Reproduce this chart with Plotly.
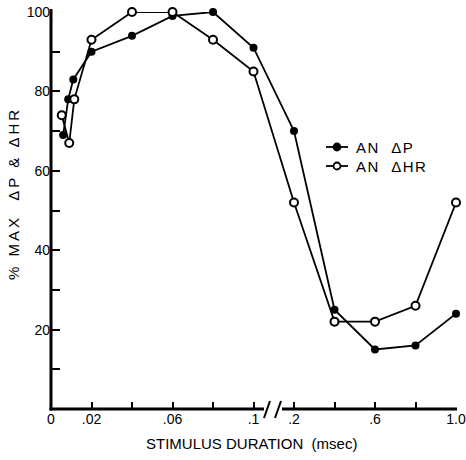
import plotly.graph_objects as go

# Data (stimulus duration in msec, % of max response)
dp_x = [0.006, 0.0085, 0.011, 0.02, 0.04, 0.06, 0.08, 0.1, 0.2, 0.4, 0.6, 0.8, 1.0]
dp_y = [69, 78, 83, 90, 94, 99, 100, 91, 70, 25, 15, 16, 24]
hr_x = [0.0053, 0.009, 0.0115, 0.02, 0.04, 0.06, 0.08, 0.1, 0.2, 0.4, 0.6, 0.8, 1.0]
hr_y = [74, 67, 78, 93, 100, 100, 93, 85, 52, 22, 22, 26, 52]

series_names = ["AN  \u0394P", "AN  \u0394HR"]
x_tick_values = [0, 0.02, 0.04, 0.06, 0.08, 0.1, 0.2, 0.4, 0.6, 0.8, 1.0]
x_tick_labels = ["0", ".02", "", ".06", "", ".1", ".2", "", ".6", "", "1.0"]
y_tick_values = [10, 20, 30, 40, 50, 60, 70, 80, 90, 100]
y_tick_labels = ["", "20", "", "40", "", "60", "", "80", "", "100"]


def pos(x):
    # broken axis: 0-0.1 in steps of 0.02, then 0.2-1.0 in steps of 0.2, equal spacing
    return x / 0.02 if x <= 0.1 + 1e-9 else 5 + x / 0.2


FONT = "Liberation Sans, Arial, Helvetica, sans-serif"

fig = go.Figure()
fig.add_trace(go.Scatter(
    x=[pos(v) for v in dp_x], y=dp_y, mode="lines+markers", name=series_names[0],
    line=dict(color="black", width=1.8),
    marker=dict(symbol="circle", size=8, color="black"),
    cliponaxis=False, showlegend=False,
))
fig.add_trace(go.Scatter(
    x=[pos(v) for v in hr_x], y=hr_y, mode="lines+markers", name=series_names[1],
    line=dict(color="black", width=1.8),
    marker=dict(symbol="circle", size=8, color="white", line=dict(color="black", width=2)),
    cliponaxis=False, showlegend=False,
))

PW = 405.0
PH = 397.0

def px(xp):
    return (xp - 51) / PW

def py(yp):
    return (409 - yp) / PH

shapes = [
    # x axis line with break
    dict(type="line", xref="paper", yref="paper", x0=px(49.5), x1=px(264), y0=0, y1=0,
         line=dict(color="black", width=3)),
    dict(type="line", xref="paper", yref="paper", x0=px(282), x1=px(457), y0=0, y1=0,
         line=dict(color="black", width=3)),
    dict(type="line", xref="paper", yref="paper", x0=px(264), x1=px(270), y0=py(418), y1=py(401),
         line=dict(color="black", width=2)),
    dict(type="line", xref="paper", yref="paper", x0=px(275), x1=px(281), y0=py(418), y1=py(401),
         line=dict(color="black", width=2)),
    # y axis line
    dict(type="line", xref="paper", yref="paper", x0=0, x1=0, y0=py(410.5), y1=py(9),
         line=dict(color="black", width=3)),
]

# manual legend
legend_rows = [147, 166]
for i, ly in enumerate(legend_rows):
    shapes.append(dict(type="line", xref="paper", yref="paper", x0=px(326), x1=px(348),
                       y0=py(ly), y1=py(ly), line=dict(color="black", width=1.8)))
    fill = "black" if i == 0 else "white"
    shapes.append(dict(type="circle", xref="paper", yref="paper",
                       x0=px(333.5), x1=px(340.5), y0=py(ly + 3.5), y1=py(ly - 3.5),
                       fillcolor=fill, line=dict(color="black", width=1.8)))

annotations = [
    dict(text="STIMULUS DURATION  (msec)", xref="paper", yref="paper",
         x=px(251), y=py(443), showarrow=False, xanchor="center", yanchor="middle",
         font=dict(family=FONT, size=15, color="black")),
    dict(text='<span style="letter-spacing:3px">% MAX  \u0394P & \u0394HR</span>',
         xref="paper", yref="paper",
         x=px(13), y=py(194), showarrow=False, textangle=-90,
         xanchor="center", yanchor="middle",
         font=dict(family=FONT, size=15, color="black")),
]
for i, ly in enumerate(legend_rows):
    annotations.append(dict(text='<span style="letter-spacing:1.5px">' + series_names[i] + '</span>',
                            xref="paper", yref="paper",
                            x=px(354), y=py(ly), showarrow=False, xanchor="left",
                            yanchor="middle",
                            font=dict(family=FONT, size=15, color="black")))

fig.update_layout(
    width=466, height=460,
    margin=dict(l=51, r=10, t=12, b=51),
    paper_bgcolor="white", plot_bgcolor="white",
    font=dict(family=FONT, size=14, color="black"),
    shapes=shapes,
    annotations=annotations,
    showlegend=False,
    xaxis=dict(range=[0, 10], tickmode="array",
               tickvals=[pos(v) for v in x_tick_values], ticktext=x_tick_labels,
               ticks="inside", ticklen=7, tickwidth=1.5, tickcolor="black",
               showgrid=False, zeroline=False, showline=False, automargin=False,
               tickfont=dict(family=FONT, size=14, color="black")),
    yaxis=dict(range=[0, 100], tickmode="array",
               tickvals=y_tick_values, ticktext=y_tick_labels,
               ticks="inside", ticklen=9, tickwidth=1.5, tickcolor="black",
               showgrid=False, zeroline=False, showline=False, automargin=False,
               tickfont=dict(family=FONT, size=14, color="black")),
)

fig.write_html(
    "out.html",
    config={"displayModeBar": False},
    post_script="document.body.style.margin='0';document.body.style.padding='0';"
                "document.documentElement.style.overflow='hidden';",
)
